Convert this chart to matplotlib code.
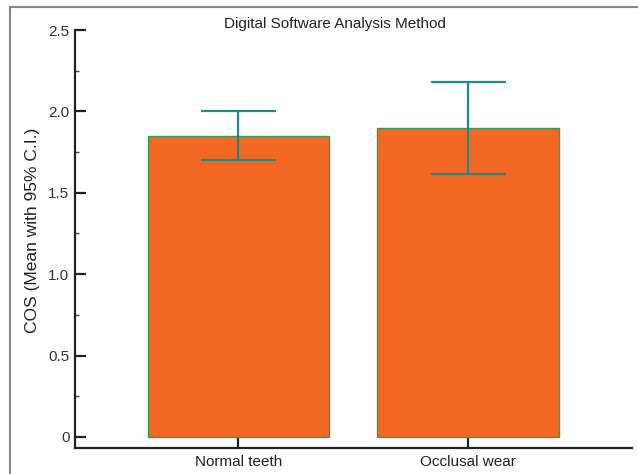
import matplotlib
matplotlib.use('Agg')
import matplotlib.pyplot as plt
from matplotlib.lines import Line2D
from matplotlib.ticker import MultipleLocator, FuncFormatter

groups = ['Normal teeth', 'Occlusal wear']
means = [1.85, 1.895]
ci_low = [1.70, 1.615]
ci_high = [2.00, 2.18]

plt.rcParams['font.family'] = ['Liberation Sans', 'DejaVu Sans']

fig = plt.figure(figsize=(6.38, 4.74), dpi=100)
ax = fig.add_axes([75/638, 26/474, 557/638, 418/474])

x = range(len(groups))
err = [[m - lo for m, lo in zip(means, ci_low)], [hi - m for m, hi in zip(means, ci_high)]]
ax.bar(x, means, width=0.79, color='#f26722', edgecolor='#3a9a5a', linewidth=1.0, zorder=2)
ax.errorbar(x, means, yerr=err, fmt='none', ecolor='#1f8a88', elinewidth=1.6,
            capsize=27, capthick=1.6, zorder=3)

ax.set_xlim(-0.712, 1.715)
ax.set_ylim(-0.0676, 2.5)
ax.set_xticks(list(x))
ax.set_xticklabels(groups)
ax.yaxis.set_major_locator(MultipleLocator(0.5))
ax.yaxis.set_minor_locator(MultipleLocator(0.25))
ax.yaxis.set_major_formatter(FuncFormatter(lambda v, p: '0' if v == 0 else '%.1f' % v))

for s in ['top', 'right']:
    ax.spines[s].set_visible(False)
for s in ['left', 'bottom']:
    ax.spines[s].set_linewidth(1.6)
    ax.spines[s].set_color('#222222')

ax.tick_params(axis='y', which='major', direction='in', length=8, width=1.6,
               color='#222222', labelsize=11, labelcolor='#333333', pad=4)
ax.tick_params(axis='y', which='minor', direction='in', length=3, width=1.0, color='#444444')
ax.tick_params(axis='x', direction='in', length=7, width=1.6, color='#222222',
               labelsize=11, labelcolor='#222222', pad=5)

fig.text(33/638, 1 - 230/474, 'COS (Mean with 95% C.I.)', rotation=90, ha='center',
         va='center', fontsize=12.5, color='#222222')
fig.text(335/638, 1 - 24/474, 'Digital Software Analysis Method', ha='center', va='center',
         fontsize=11, color='#222222')

# frame lines of the original figure
fig.add_artist(Line2D([10/638, 1], [1 - 7/474, 1 - 7/474], color='#888888', lw=1.5))
fig.add_artist(Line2D([10/638, 10/638], [0, 1 - 7/474], color='#888888', lw=1.5))

fig.savefig('out.png', dpi=100)
